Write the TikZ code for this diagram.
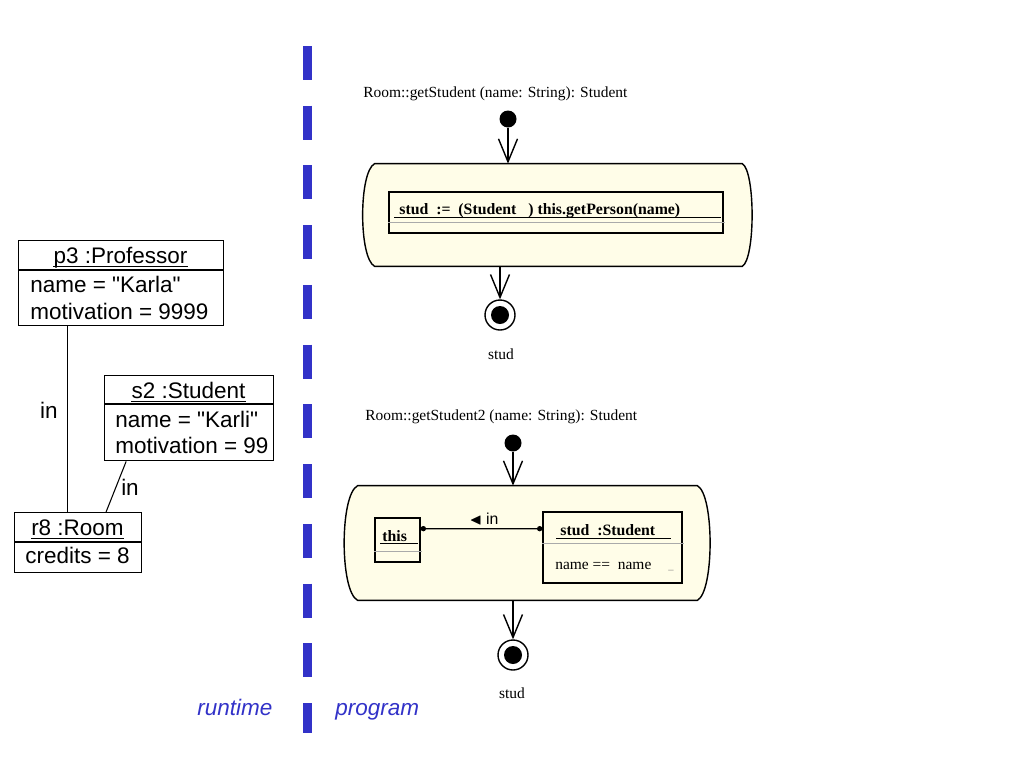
\documentclass[tikz,border=0pt]{standalone}
\usepackage{fontspec}
\usepackage{amssymb}
\setmainfont{Liberation Serif}
\setsansfont{Liberation Sans}
\usetikzlibrary{arrows.meta,calc}
\definecolor{divblue}{RGB}{50,50,200}
\definecolor{actfill}{RGB}{255,253,232}
\definecolor{sepgray}{RGB}{170,170,170}
\newcommand{\pxu}{0.02cm}

\begin{document}
\begin{tikzpicture}[x=0.02cm, y=-0.02cm,
    objbox/.style={draw, line width=0.8pt, inner sep=0, anchor=north west},
    objtitle/.style={font=\sffamily\fontsize{12.8}{15}\selectfont, anchor=base, inner sep=0,
      append after command={([yshift=-1.8pt]\tikzlastnode.base west) edge[line width=0.6pt] ([yshift=-1.8pt]\tikzlastnode.base east)}},
    objattr/.style={font=\sffamily\fontsize{12.8}{15}\selectfont, anchor=base west, inner sep=0},
    link/.style={line width=0.6pt},
    sidelabel/.style={font=\sffamily\itshape\fontsize{12.8}{15}\selectfont, text=divblue, anchor=base west, inner sep=0},
    sig/.style={font=\fontsize{8.8}{11}\selectfont, anchor=base west, inner sep=0},
    startdot/.style={circle, fill=black, minimum size=17*\pxu, inner sep=0},
    enddot/.style={circle, draw, line width=0.8pt, minimum size=30*\pxu, inner sep=0,
      path picture={\fill (path picture bounding box.center) circle (9*\pxu);}},
    activity/.style={rectangle, inner sep=0},
    actline/.style={draw, line width=0.8pt, fill=actfill},
    stmtbox/.style={draw, line width=0.8pt, inner sep=0},
    stmttext/.style={font=\bfseries\fontsize{9}{11}\selectfont, anchor=base west, inner sep=0},
    flow/.style={line width=0.8pt, -{Straight Barb[length=23*\pxu, width=19*\pxu, line width=0.8pt]}},
    assoc/.style={line width=0.7pt, {Circle[length=3pt]}-{Circle[length=3pt]}}]
  \useasboundingbox (0,0) rectangle (1024,768);

  % runtime objects
  \node[objbox, minimum width=205*\pxu, minimum height=85*\pxu] (p3) at (18,240) {};
  \draw[link] ($(p3.north west)+(0,30)$) -- ($(p3.north east)+(0,30)$);
  \node[objtitle] (p3t) at (120.5,263) {p3 :Professor};
  \node[objattr] (p3a) at (30,292) {name = \textquotedbl Karla\textquotedbl};
  \node[objattr] (p3b) at (30,319) {motivation = 9999};

  \node[objbox, minimum width=169*\pxu, minimum height=85*\pxu] (s2) at (104,375) {};
  \draw[link] ($(s2.north west)+(0,29)$) -- ($(s2.north east)+(0,29)$);
  \node[objtitle] (s2t) at (188.5,398) {s2 :Student};
  \node[objattr] (s2a) at (115,427) {name = \textquotedbl Karli\textquotedbl};
  \node[objattr] (s2b) at (115,453) {motivation = 99};

  \node[objbox, minimum width=127*\pxu, minimum height=60*\pxu] (r8) at (14,512) {};
  \draw[link] ($(r8.north west)+(0,30)$) -- ($(r8.north east)+(0,30)$);
  \node[objtitle] (r8t) at (77.5,535) {r8 :Room};
  \node[objattr] (r8a) at (25,563) {credits = 8};

  % links
  \draw[link] ($(p3.south west)!0.24!(p3.south east)$) coordinate (p3r8) -- (p3r8 |- r8.north);
  \node[objattr, anchor=center] (in1) at (49,410) {in};
  \draw[link] ($(s2.south west)!0.13!(s2.south east)$) -- ($(r8.north west)!0.717!(r8.north east)$);
  \node[objattr, anchor=center] (in2) at (130,487) {in};

  % dividing line
  \draw[divblue, line width=9*\pxu, dash pattern=on 0.68cm off 0.515cm] (307.5,46) -- (307.5,733);
  \node[sidelabel] (runtime) at (197,715) {runtime};
  \node[sidelabel] (program) at (335,715) {program};

  % first method
  \node[sig] (sig1) at (363,97) {Room::getStudent (name: String): Student};
  \node[startdot] (start1) at (508,119) {};
  \node[activity, minimum width=390*\pxu, minimum height=102*\pxu] (act1) at (557,215) {};
  \path[actline] ($(act1.north west)+(13,0)$) -- ($(act1.north east)+(-10,0)$)
    .. controls ($(act1.north east)+(3,8)$) and ($(act1.south east)+(3,-8)$) .. ($(act1.south east)+(-10,0)$)
    -- ($(act1.south west)+(13,0)$)
    .. controls ($(act1.south west)+(-3,-8)$) and ($(act1.north west)+(-3,8)$) .. cycle;
  \node[stmtbox, minimum width=334*\pxu, minimum height=41*\pxu] (stmt1) at (556,212.5) {};
  \node[stmttext] (stmt1t) at (399,214) {stud\ \ :=\ \ (Student\ \ \ )\ this.getPerson(name)};
  \draw[line width=0.8pt] ($(stmt1.north west)+(6,26)$) -- ($(stmt1.north east)+(-3,26)$);
  \draw[sepgray, line width=0.6pt] ($(stmt1.north west)+(0,31)$) -- ($(stmt1.north east)+(1,31)$);
  \node[enddot] (end1) at (500,315) {};
  \node[sig, anchor=center] (res1) at (501,354) {stud};
  \draw[flow] (start1) -- (start1 |- act1.north);
  \draw[flow] (end1 |- act1.south) -- (end1);

  % second method
  \node[sig] (sig2) at (365,420) {Room::getStudent2 (name: String): Student};
  \node[startdot] (start2) at (513,443) {};
  \node[activity, minimum width=366*\pxu, minimum height=114*\pxu] (act2) at (527,543) {};
  \path[actline] ($(act2.north west)+(14,0)$) -- ($(act2.north east)+(-13,0)$)
    .. controls ($(act2.north east)+(4,9)$) and ($(act2.south east)+(4,-9)$) .. ($(act2.south east)+(-13,0)$)
    -- ($(act2.south west)+(14,0)$)
    .. controls ($(act2.south west)+(-4,-9)$) and ($(act2.north west)+(-4,9)$) .. cycle;
  \node[stmtbox, minimum width=45*\pxu, minimum height=44*\pxu] (thisbox) at (397.5,540) {};
  \node[stmttext] (thist) at (382,541) {this};
  \draw[line width=0.8pt] ($(thisbox.north west)+(6,26)$) -- ($(thisbox.north east)+(-3,26)$);
  \draw[sepgray, line width=0.6pt] ($(thisbox.north west)+(0,34)$) -- ($(thisbox.north east)+(1,34)$);
  \node[stmtbox, minimum width=139*\pxu, minimum height=71*\pxu] (studbox) at (612.5,547.5) {};
  \node[stmttext] (studt) at (560,535) {stud\ \ :Student};
  \draw[line width=0.8pt] ($(studbox.north west)+(14,27)$) -- ($(studbox.north east)+(-12,27)$);
  \draw[sepgray, line width=0.6pt] ($(studbox.north west)+(0,32)$) -- ($(studbox.north east)+(1,32)$);
  \node[sig] (studc) at (555,569) {name\ ==\ \ name};
  \node[sig, font=\fontsize{6}{7}\selectfont, text=gray] (studx) at (668,569) {\_};
  \draw[assoc] ($(thisbox.north east)!0.25!(thisbox.south east)$) -- ($(studbox.north west)!0.24!(studbox.south west)$);
  \node[font=\sffamily\fontsize{9}{11}\selectfont, inner sep=0] (inlbl) at (484,519) {$\blacktriangleleft$ in};
  \node[enddot] (end2) at (513,655) {};
  \node[sig, anchor=center] (res2) at (512,693) {stud};
  \draw[flow] (start2) -- (start2 |- act2.north);
  \draw[flow] (end2 |- act2.south) -- (end2);
\end{tikzpicture}
\end{document}
